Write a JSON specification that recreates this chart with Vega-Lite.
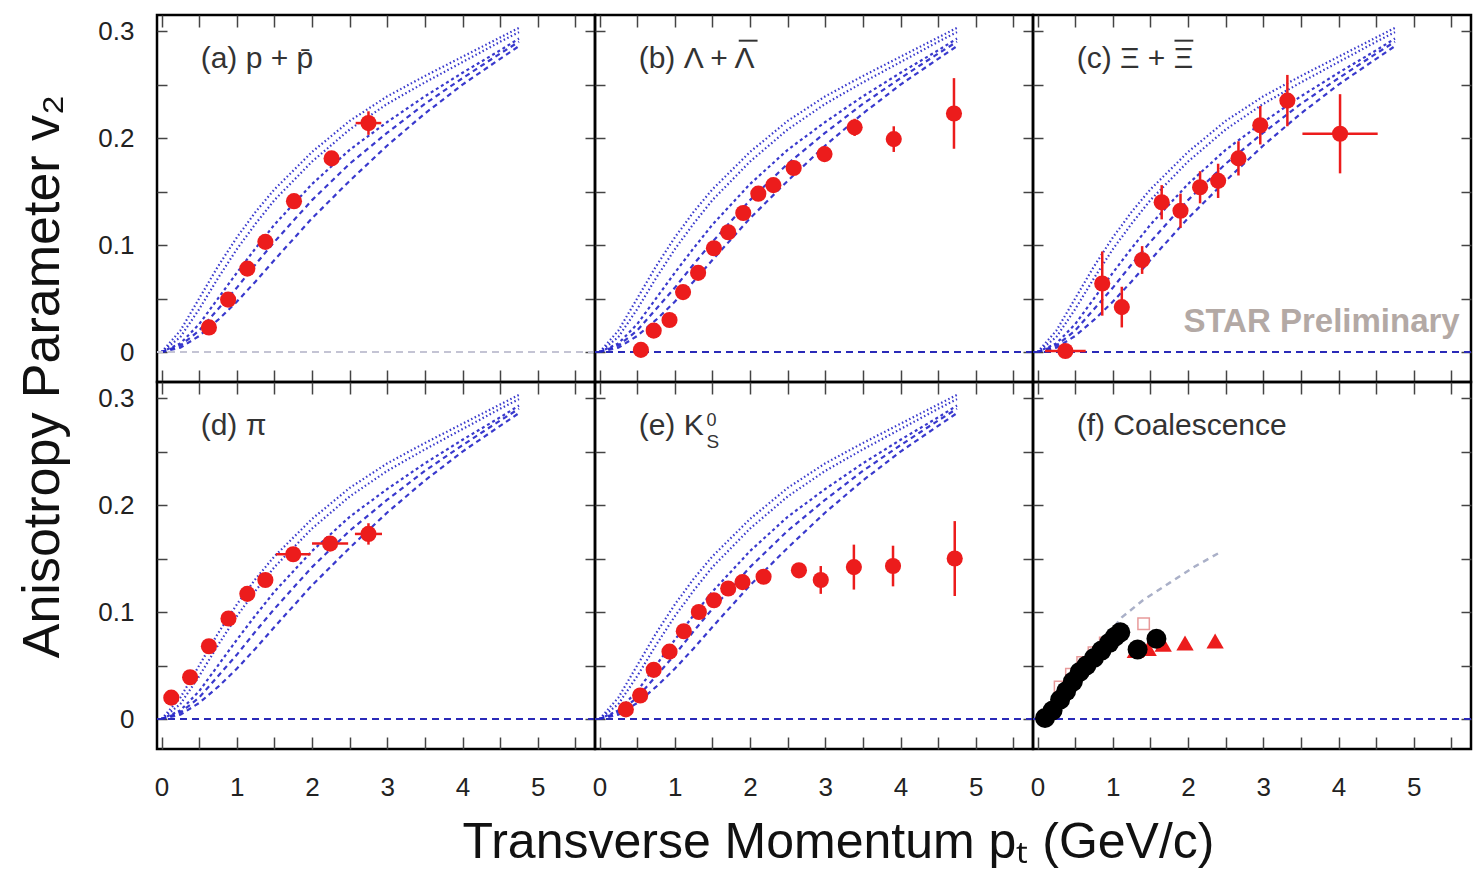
{
 "$schema": "https://vega.github.io/schema/vega-lite/v6.json",
 "background": "white",
 "padding": {"left": 14, "top": 13, "right": 5, "bottom": 2},
 "config": {
  "font": "Liberation Sans",
  "view": {"stroke": "#000", "strokeWidth": 2.5},
  "concat": {"spacing": 0},
  "axis": {"domain": false, "grid": false, "tickColor": "#444", "tickWidth": 1.5, "labelFontSize": 26, "labelColor": "#222", "labelFlush": false, "labelOverlap": false, "labelFont": "Liberation Sans", "titleFont": "Liberation Sans", "titleFontWeight": "normal", "titleColor": "#111"},
  "axisX": {"tickSize": -12, "labelPadding": 37},
  "axisY": {"tickSize": -10, "labelPadding": 33}
 },
 "datasets": {
  "hydro": [
   {"curve":"c1","pt":0,"v2":0},{"curve":"c1","pt":0.25,"v2":0.02},{"curve":"c1","pt":0.5,"v2":0.05},{"curve":"c1","pt":0.75,"v2":0.08},{"curve":"c1","pt":1,"v2":0.107},{"curve":"c1","pt":1.25,"v2":0.131},{"curve":"c1","pt":1.5,"v2":0.152},{"curve":"c1","pt":2,"v2":0.187},{"curve":"c1","pt":2.5,"v2":0.216},{"curve":"c1","pt":3,"v2":0.239},{"curve":"c1","pt":3.5,"v2":0.258},{"curve":"c1","pt":4,"v2":0.276},{"curve":"c1","pt":4.5,"v2":0.294},{"curve":"c1","pt":4.75,"v2":0.303},
   {"curve":"c2","pt":0,"v2":0},{"curve":"c2","pt":0.25,"v2":0.014},{"curve":"c2","pt":0.5,"v2":0.04},{"curve":"c2","pt":0.75,"v2":0.069},{"curve":"c2","pt":1,"v2":0.096},{"curve":"c2","pt":1.25,"v2":0.12},{"curve":"c2","pt":1.5,"v2":0.142},{"curve":"c2","pt":2,"v2":0.178},{"curve":"c2","pt":2.5,"v2":0.208},{"curve":"c2","pt":3,"v2":0.232},{"curve":"c2","pt":3.5,"v2":0.252},{"curve":"c2","pt":4,"v2":0.271},{"curve":"c2","pt":4.5,"v2":0.29},{"curve":"c2","pt":4.75,"v2":0.299},
   {"curve":"c3","pt":0,"v2":0},{"curve":"c3","pt":0.25,"v2":0.008},{"curve":"c3","pt":0.5,"v2":0.026},{"curve":"c3","pt":0.75,"v2":0.05},{"curve":"c3","pt":1,"v2":0.074},{"curve":"c3","pt":1.25,"v2":0.097},{"curve":"c3","pt":1.5,"v2":0.119},{"curve":"c3","pt":2,"v2":0.157},{"curve":"c3","pt":2.5,"v2":0.189},{"curve":"c3","pt":3,"v2":0.215},{"curve":"c3","pt":3.5,"v2":0.239},{"curve":"c3","pt":4,"v2":0.261},{"curve":"c3","pt":4.5,"v2":0.282},{"curve":"c3","pt":4.75,"v2":0.293},
   {"curve":"c4","pt":0,"v2":0},{"curve":"c4","pt":0.25,"v2":0.006},{"curve":"c4","pt":0.5,"v2":0.02},{"curve":"c4","pt":0.75,"v2":0.04},{"curve":"c4","pt":1,"v2":0.06},{"curve":"c4","pt":1.25,"v2":0.082},{"curve":"c4","pt":1.5,"v2":0.103},{"curve":"c4","pt":2,"v2":0.142},{"curve":"c4","pt":2.5,"v2":0.176},{"curve":"c4","pt":3,"v2":0.205},{"curve":"c4","pt":3.5,"v2":0.232},{"curve":"c4","pt":4,"v2":0.256},{"curve":"c4","pt":4.5,"v2":0.279},{"curve":"c4","pt":4.75,"v2":0.29},
   {"curve":"c5","pt":0,"v2":0},{"curve":"c5","pt":0.25,"v2":0.004},{"curve":"c5","pt":0.5,"v2":0.015},{"curve":"c5","pt":0.75,"v2":0.03},{"curve":"c5","pt":1,"v2":0.047},{"curve":"c5","pt":1.25,"v2":0.066},{"curve":"c5","pt":1.5,"v2":0.086},{"curve":"c5","pt":2,"v2":0.125},{"curve":"c5","pt":2.5,"v2":0.16},{"curve":"c5","pt":3,"v2":0.193},{"curve":"c5","pt":3.5,"v2":0.223},{"curve":"c5","pt":4,"v2":0.25},{"curve":"c5","pt":4.5,"v2":0.274},{"curve":"c5","pt":4.75,"v2":0.286}
  ],
  "pa": [
   {"pt":0.63,"v2":0.023,"lo":0.019,"hi":0.027,"xlo":0.63,"xhi":0.63},
   {"pt":0.885,"v2":0.049,"lo":0.045,"hi":0.053,"xlo":0.885,"xhi":0.885},
   {"pt":1.14,"v2":0.078,"lo":0.074,"hi":0.082,"xlo":1.14,"xhi":1.14},
   {"pt":1.38,"v2":0.103,"lo":0.099,"hi":0.107,"xlo":1.38,"xhi":1.38},
   {"pt":1.76,"v2":0.141,"lo":0.137,"hi":0.145,"xlo":1.76,"xhi":1.76},
   {"pt":2.26,"v2":0.181,"lo":0.177,"hi":0.185,"xlo":2.26,"xhi":2.26},
   {"pt":2.75,"v2":0.214,"lo":0.203,"hi":0.225,"xlo":2.58,"xhi":2.92}
  ],
  "pb": [
   {"pt":0.55,"v2":0.002,"lo":-0.002,"hi":0.006},
   {"pt":0.72,"v2":0.02,"lo":0.016,"hi":0.024},
   {"pt":0.93,"v2":0.03,"lo":0.026,"hi":0.034},
   {"pt":1.11,"v2":0.056,"lo":0.052,"hi":0.06},
   {"pt":1.31,"v2":0.074,"lo":0.07,"hi":0.078},
   {"pt":1.52,"v2":0.097,"lo":0.093,"hi":0.101},
   {"pt":1.71,"v2":0.112,"lo":0.108,"hi":0.116},
   {"pt":1.91,"v2":0.13,"lo":0.126,"hi":0.134},
   {"pt":2.11,"v2":0.148,"lo":0.144,"hi":0.152},
   {"pt":2.31,"v2":0.156,"lo":0.152,"hi":0.16},
   {"pt":2.58,"v2":0.172,"lo":0.167,"hi":0.177},
   {"pt":2.99,"v2":0.185,"lo":0.178,"hi":0.192},
   {"pt":3.39,"v2":0.21,"lo":0.202,"hi":0.218},
   {"pt":3.91,"v2":0.199,"lo":0.187,"hi":0.211},
   {"pt":4.71,"v2":0.223,"lo":0.19,"hi":0.256}
  ],
  "pc": [
   {"pt":0.37,"v2":0.001,"lo":-0.003,"hi":0.005,"xlo":0.1,"xhi":0.64},
   {"pt":0.86,"v2":0.064,"lo":0.034,"hi":0.094,"xlo":0.86,"xhi":0.86},
   {"pt":1.12,"v2":0.042,"lo":0.023,"hi":0.061,"xlo":1.12,"xhi":1.12},
   {"pt":1.39,"v2":0.086,"lo":0.073,"hi":0.099,"xlo":1.39,"xhi":1.39},
   {"pt":1.65,"v2":0.14,"lo":0.124,"hi":0.156,"xlo":1.65,"xhi":1.65},
   {"pt":1.9,"v2":0.132,"lo":0.116,"hi":0.148,"xlo":1.9,"xhi":1.9},
   {"pt":2.16,"v2":0.154,"lo":0.139,"hi":0.169,"xlo":2.16,"xhi":2.16},
   {"pt":2.4,"v2":0.16,"lo":0.144,"hi":0.176,"xlo":2.4,"xhi":2.4},
   {"pt":2.67,"v2":0.181,"lo":0.165,"hi":0.197,"xlo":2.67,"xhi":2.67},
   {"pt":2.96,"v2":0.212,"lo":0.194,"hi":0.23,"xlo":2.96,"xhi":2.96},
   {"pt":3.32,"v2":0.235,"lo":0.211,"hi":0.259,"xlo":3.32,"xhi":3.32},
   {"pt":4.02,"v2":0.204,"lo":0.167,"hi":0.241,"xlo":3.52,"xhi":4.52}
  ],
  "pd": [
   {"pt":0.13,"v2":0.02,"lo":0.016,"hi":0.024,"xlo":0.13,"xhi":0.13},
   {"pt":0.38,"v2":0.039,"lo":0.035,"hi":0.043,"xlo":0.38,"xhi":0.38},
   {"pt":0.63,"v2":0.068,"lo":0.064,"hi":0.072,"xlo":0.63,"xhi":0.63},
   {"pt":0.89,"v2":0.094,"lo":0.09,"hi":0.098,"xlo":0.89,"xhi":0.89},
   {"pt":1.14,"v2":0.117,"lo":0.113,"hi":0.121,"xlo":1.14,"xhi":1.14},
   {"pt":1.38,"v2":0.13,"lo":0.126,"hi":0.134,"xlo":1.38,"xhi":1.38},
   {"pt":1.75,"v2":0.154,"lo":0.15,"hi":0.158,"xlo":1.52,"xhi":1.98},
   {"pt":2.24,"v2":0.164,"lo":0.16,"hi":0.168,"xlo":2.0,"xhi":2.48},
   {"pt":2.75,"v2":0.173,"lo":0.163,"hi":0.183,"xlo":2.57,"xhi":2.93}
  ],
  "pe": [
   {"pt":0.35,"v2":0.009,"lo":0.005,"hi":0.013},
   {"pt":0.54,"v2":0.022,"lo":0.018,"hi":0.026},
   {"pt":0.72,"v2":0.046,"lo":0.042,"hi":0.05},
   {"pt":0.93,"v2":0.063,"lo":0.059,"hi":0.067},
   {"pt":1.12,"v2":0.082,"lo":0.078,"hi":0.086},
   {"pt":1.32,"v2":0.1,"lo":0.096,"hi":0.104},
   {"pt":1.52,"v2":0.111,"lo":0.107,"hi":0.115},
   {"pt":1.71,"v2":0.122,"lo":0.118,"hi":0.126},
   {"pt":1.9,"v2":0.128,"lo":0.124,"hi":0.132},
   {"pt":2.18,"v2":0.133,"lo":0.129,"hi":0.137},
   {"pt":2.65,"v2":0.139,"lo":0.134,"hi":0.144},
   {"pt":2.94,"v2":0.13,"lo":0.117,"hi":0.143},
   {"pt":3.38,"v2":0.142,"lo":0.121,"hi":0.163},
   {"pt":3.9,"v2":0.143,"lo":0.124,"hi":0.162},
   {"pt":4.72,"v2":0.15,"lo":0.115,"hi":0.185}
  ],
  "fgray": [
   {"pt":0,"v2":0},{"pt":0.3,"v2":0.02},{"pt":0.6,"v2":0.048},{"pt":0.9,"v2":0.076},{"pt":1.12,"v2":0.095},{"pt":1.4,"v2":0.111},{"pt":1.77,"v2":0.128},{"pt":2.1,"v2":0.143},{"pt":2.43,"v2":0.156}
  ],
  "fsq": [
   {"pt":0.3,"v2":0.03},{"pt":0.45,"v2":0.042},{"pt":0.6,"v2":0.053},{"pt":0.75,"v2":0.062},{"pt":0.9,"v2":0.071},{"pt":1.05,"v2":0.079},{"pt":1.41,"v2":0.089}
  ],
  "fblack": [
   {"pt":0.1,"v2":0.001},{"pt":0.2,"v2":0.008},{"pt":0.3,"v2":0.018},{"pt":0.38,"v2":0.026},{"pt":0.47,"v2":0.035},{"pt":0.56,"v2":0.044},{"pt":0.65,"v2":0.05},{"pt":0.75,"v2":0.057},{"pt":0.85,"v2":0.064},{"pt":0.95,"v2":0.071},{"pt":1.03,"v2":0.077},{"pt":1.1,"v2":0.081},{"pt":1.33,"v2":0.065},{"pt":1.58,"v2":0.075}
  ],
  "ftri": [
   {"pt":1.3,"v2":0.064},{"pt":1.47,"v2":0.066},{"pt":1.67,"v2":0.07},{"pt":1.96,"v2":0.071},{"pt":2.36,"v2":0.073}
  ]
 },
 "columns": 3,
 "spacing": 0,
 "bounds": "flush",
 "concat": [
   {"width": 438, "height": 367, "resolve": {"axis": {"x": "independent", "y": "independent"}},
    "layer": [
     {"data": {"name": "hydro"}, "mark": {"type": "line", "color": "#2424c8", "strokeWidth": 2.2, "opacity": 0.9},
      "encoding": {
       "x": {"field": "pt", "type": "quantitative", "scale": {"domain": [-0.06, 5.76], "nice": false, "zero": false}, "axis": {"orient": "bottom", "title": null, "labels": false, "values": [0,0.5,1,1.5,2,2.5,3,3.5,4,4.5,5,5.5]}},
       "y": {"field": "v2", "type": "quantitative", "scale": {"domain": [-0.028, 0.315], "nice": false, "zero": false}, "axis": {"orient": "left", "title": "Anisotropy Parameter v₂", "titleFontSize": 52, "titleX": -88, "titleY": 361, "titleAngle": -90, "titleBaseline": "bottom", "titleAlign": "center", "values": [0,0.05,0.1,0.15,0.2,0.25,0.3], "labelExpr": "round(datum.value*20) % 2 == 0 ? format(datum.value, '.1~f') : ''"}},
       "strokeDash": {"field": "curve", "type": "nominal", "scale": {"domain": ["c1","c2","c3","c4","c5"], "range": [[1.5,2.5],[1.5,2.5],[3,3],[5,4],[5,4]]}, "legend": null}
      }},
     {"data": {"values": [{}]}, "mark": {"type": "rule", "color": "#c4c4d4", "strokeDash": [7,5], "strokeWidth": 2}, "encoding": {"y": {"datum": 0, "type": "quantitative", "axis": null}}},
     {"data": {"name": "pa"}, "mark": {"type": "rule", "color": "#ec1c1c", "strokeWidth": 2.5}, "encoding": {"x": {"field": "pt", "type": "quantitative", "axis": null}, "y": {"field": "lo", "type": "quantitative", "axis": null}, "y2": {"field": "hi"}}},
     {"data": {"name": "pa"}, "mark": {"type": "rule", "color": "#ec1c1c", "strokeWidth": 2.5}, "encoding": {"x": {"field": "xlo", "type": "quantitative", "axis": null}, "x2": {"field": "xhi"}, "y": {"field": "v2", "type": "quantitative", "axis": null}}},
     {"data": {"name": "pa"}, "mark": {"type": "circle", "size": 260, "opacity": 1, "color": "#ec1c1c"},
      "encoding": {"x": {"field": "pt", "type": "quantitative", "axis": {"orient": "top", "title": null, "labels": false, "values": [0,0.5,1,1.5,2,2.5,3,3.5,4,4.5,5,5.5]}}, "y": {"field": "v2", "type": "quantitative", "axis": {"orient": "right", "title": null, "labels": false, "values": [0,0.05,0.1,0.15,0.2,0.25,0.3]}}}},
     {"data": {"values": [{}]}, "mark": {"type": "text", "align": "left", "baseline": "alphabetic", "fontSize": 30, "color": "#333"}, "encoding": {"x": {"datum": 0.52, "type": "quantitative", "axis": null}, "y": {"datum": 0.265, "type": "quantitative", "axis": null}, "text": {"value": "(a) p + p̄"}}}
    ]},
   {"width": 438, "height": 367, "resolve": {"axis": {"x": "independent", "y": "independent"}},
    "layer": [
     {"data": {"name": "hydro"}, "mark": {"type": "line", "color": "#2424c8", "strokeWidth": 2.2, "opacity": 0.9},
      "encoding": {
       "x": {"field": "pt", "type": "quantitative", "scale": {"domain": [-0.06, 5.76], "nice": false, "zero": false}, "axis": {"orient": "bottom", "title": null, "labels": false, "values": [0,0.5,1,1.5,2,2.5,3,3.5,4,4.5,5,5.5]}},
       "y": {"field": "v2", "type": "quantitative", "scale": {"domain": [-0.028, 0.315], "nice": false, "zero": false}, "axis": {"orient": "left", "title": null, "labels": false, "values": [0,0.05,0.1,0.15,0.2,0.25,0.3]}},
       "strokeDash": {"field": "curve", "type": "nominal", "scale": {"domain": ["c1","c2","c3","c4","c5"], "range": [[1.5,2.5],[1.5,2.5],[3,3],[5,4],[5,4]]}, "legend": null}
      }},
     {"data": {"values": [{}]}, "mark": {"type": "rule", "color": "#2a2ab8", "strokeDash": [7,5], "strokeWidth": 2}, "encoding": {"y": {"datum": 0, "type": "quantitative", "axis": null}}},
     {"data": {"name": "pb"}, "mark": {"type": "rule", "color": "#ec1c1c", "strokeWidth": 2.5}, "encoding": {"x": {"field": "pt", "type": "quantitative", "axis": null}, "y": {"field": "lo", "type": "quantitative", "axis": null}, "y2": {"field": "hi"}}},
     {"data": {"name": "pb"}, "mark": {"type": "circle", "size": 260, "opacity": 1, "color": "#ec1c1c"},
      "encoding": {"x": {"field": "pt", "type": "quantitative", "axis": {"orient": "top", "title": null, "labels": false, "values": [0,0.5,1,1.5,2,2.5,3,3.5,4,4.5,5,5.5]}}, "y": {"field": "v2", "type": "quantitative", "axis": {"orient": "right", "title": null, "labels": false, "values": [0,0.05,0.1,0.15,0.2,0.25,0.3]}}}},
     {"data": {"values": [{}]}, "mark": {"type": "text", "align": "left", "baseline": "alphabetic", "fontSize": 30, "color": "#333"}, "encoding": {"x": {"datum": 0.52, "type": "quantitative", "axis": null}, "y": {"datum": 0.265, "type": "quantitative", "axis": null}, "text": {"value": "(b) Λ + Λ"}}},
     {"data": {"values": [{}]}, "mark": {"type": "rule", "color": "#333", "strokeWidth": 2}, "encoding": {"x": {"datum": 1.85, "type": "quantitative", "axis": null}, "x2": {"datum": 2.1}, "y": {"datum": 0.291, "type": "quantitative", "axis": null}}}
    ]},
   {"width": 438, "height": 367, "resolve": {"axis": {"x": "independent", "y": "independent"}},
    "layer": [
     {"data": {"name": "hydro"}, "mark": {"type": "line", "color": "#2424c8", "strokeWidth": 2.2, "opacity": 0.9},
      "encoding": {
       "x": {"field": "pt", "type": "quantitative", "scale": {"domain": [-0.06, 5.76], "nice": false, "zero": false}, "axis": {"orient": "bottom", "title": null, "labels": false, "values": [0,0.5,1,1.5,2,2.5,3,3.5,4,4.5,5,5.5]}},
       "y": {"field": "v2", "type": "quantitative", "scale": {"domain": [-0.028, 0.315], "nice": false, "zero": false}, "axis": {"orient": "left", "title": null, "labels": false, "values": [0,0.05,0.1,0.15,0.2,0.25,0.3]}},
       "strokeDash": {"field": "curve", "type": "nominal", "scale": {"domain": ["c1","c2","c3","c4","c5"], "range": [[1.5,2.5],[1.5,2.5],[3,3],[5,4],[5,4]]}, "legend": null}
      }},
     {"data": {"values": [{}]}, "mark": {"type": "rule", "color": "#2a2ab8", "strokeDash": [7,5], "strokeWidth": 2}, "encoding": {"y": {"datum": 0, "type": "quantitative", "axis": null}}},
     {"data": {"values": [{}]}, "mark": {"type": "text", "align": "right", "baseline": "alphabetic", "fontSize": 33, "fontWeight": "bold", "color": "#b3a9a5"}, "encoding": {"x": {"datum": 5.61, "type": "quantitative", "axis": null}, "y": {"datum": 0.019, "type": "quantitative", "axis": null}, "text": {"value": "STAR Preliminary"}}},
     {"data": {"name": "pc"}, "mark": {"type": "rule", "color": "#ec1c1c", "strokeWidth": 2.5}, "encoding": {"x": {"field": "pt", "type": "quantitative", "axis": null}, "y": {"field": "lo", "type": "quantitative", "axis": null}, "y2": {"field": "hi"}}},
     {"data": {"name": "pc"}, "mark": {"type": "rule", "color": "#ec1c1c", "strokeWidth": 2.5}, "encoding": {"x": {"field": "xlo", "type": "quantitative", "axis": null}, "x2": {"field": "xhi"}, "y": {"field": "v2", "type": "quantitative", "axis": null}}},
     {"data": {"name": "pc"}, "mark": {"type": "circle", "size": 260, "opacity": 1, "color": "#ec1c1c"},
      "encoding": {"x": {"field": "pt", "type": "quantitative", "axis": {"orient": "top", "title": null, "labels": false, "values": [0,0.5,1,1.5,2,2.5,3,3.5,4,4.5,5,5.5]}}, "y": {"field": "v2", "type": "quantitative", "axis": {"orient": "right", "title": null, "labels": false, "values": [0,0.05,0.1,0.15,0.2,0.25,0.3]}}}},
     {"data": {"values": [{}]}, "mark": {"type": "text", "align": "left", "baseline": "alphabetic", "fontSize": 30, "color": "#333"}, "encoding": {"x": {"datum": 0.52, "type": "quantitative", "axis": null}, "y": {"datum": 0.265, "type": "quantitative", "axis": null}, "text": {"value": "(c) Ξ + Ξ"}}},
     {"data": {"values": [{}]}, "mark": {"type": "rule", "color": "#333", "strokeWidth": 2}, "encoding": {"x": {"datum": 1.82, "type": "quantitative", "axis": null}, "x2": {"datum": 2.07}, "y": {"datum": 0.291, "type": "quantitative", "axis": null}}}
    ]},
   {"width": 438, "height": 367, "resolve": {"axis": {"x": "independent", "y": "independent"}},
    "layer": [
     {"data": {"name": "hydro"}, "mark": {"type": "line", "color": "#2424c8", "strokeWidth": 2.2, "opacity": 0.9},
      "encoding": {
       "x": {"field": "pt", "type": "quantitative", "scale": {"domain": [-0.06, 5.76], "nice": false, "zero": false}, "axis": {"orient": "bottom", "title": null, "values": [0,0.5,1,1.5,2,2.5,3,3.5,4,4.5,5,5.5], "labelExpr": "round(datum.value*2) % 2 == 0 ? format(datum.value, 'd') : ''"}},
       "y": {"field": "v2", "type": "quantitative", "scale": {"domain": [-0.028, 0.315], "nice": false, "zero": false}, "axis": {"orient": "left", "title": null, "values": [0,0.05,0.1,0.15,0.2,0.25,0.3], "labelExpr": "round(datum.value*20) % 2 == 0 ? format(datum.value, '.1~f') : ''"}},
       "strokeDash": {"field": "curve", "type": "nominal", "scale": {"domain": ["c1","c2","c3","c4","c5"], "range": [[1.5,2.5],[1.5,2.5],[3,3],[5,4],[5,4]]}, "legend": null}
      }},
     {"data": {"values": [{}]}, "mark": {"type": "rule", "color": "#2a2ab8", "strokeDash": [7,5], "strokeWidth": 2}, "encoding": {"y": {"datum": 0, "type": "quantitative", "axis": null}}},
     {"data": {"name": "pd"}, "mark": {"type": "rule", "color": "#ec1c1c", "strokeWidth": 2.5}, "encoding": {"x": {"field": "pt", "type": "quantitative", "axis": null}, "y": {"field": "lo", "type": "quantitative", "axis": null}, "y2": {"field": "hi"}}},
     {"data": {"name": "pd"}, "mark": {"type": "rule", "color": "#ec1c1c", "strokeWidth": 2.5}, "encoding": {"x": {"field": "xlo", "type": "quantitative", "axis": null}, "x2": {"field": "xhi"}, "y": {"field": "v2", "type": "quantitative", "axis": null}}},
     {"data": {"name": "pd"}, "mark": {"type": "circle", "size": 260, "opacity": 1, "color": "#ec1c1c"},
      "encoding": {"x": {"field": "pt", "type": "quantitative", "axis": {"orient": "top", "title": null, "labels": false, "values": [0,0.5,1,1.5,2,2.5,3,3.5,4,4.5,5,5.5]}}, "y": {"field": "v2", "type": "quantitative", "axis": {"orient": "right", "title": null, "labels": false, "values": [0,0.05,0.1,0.15,0.2,0.25,0.3]}}}},
     {"data": {"values": [{}]}, "mark": {"type": "text", "align": "left", "baseline": "alphabetic", "fontSize": 30, "color": "#333"}, "encoding": {"x": {"datum": 0.52, "type": "quantitative", "axis": null}, "y": {"datum": 0.265, "type": "quantitative", "axis": null}, "text": {"value": "(d) π"}}}
    ]},
   {"width": 438, "height": 367, "resolve": {"axis": {"x": "independent", "y": "independent"}},
    "layer": [
     {"data": {"name": "hydro"}, "mark": {"type": "line", "color": "#2424c8", "strokeWidth": 2.2, "opacity": 0.9},
      "encoding": {
       "x": {"field": "pt", "type": "quantitative", "scale": {"domain": [-0.06, 5.76], "nice": false, "zero": false}, "axis": {"orient": "bottom", "title": "Transverse Momentum pₜ (GeV/c)", "titleFontSize": 50, "titleX": 243, "titleY": 108, "titleBaseline": "alphabetic", "titleAlign": "center", "values": [0,0.5,1,1.5,2,2.5,3,3.5,4,4.5,5,5.5], "labelExpr": "round(datum.value*2) % 2 == 0 ? format(datum.value, 'd') : ''"}},
       "y": {"field": "v2", "type": "quantitative", "scale": {"domain": [-0.028, 0.315], "nice": false, "zero": false}, "axis": {"orient": "left", "title": null, "labels": false, "values": [0,0.05,0.1,0.15,0.2,0.25,0.3]}},
       "strokeDash": {"field": "curve", "type": "nominal", "scale": {"domain": ["c1","c2","c3","c4","c5"], "range": [[1.5,2.5],[1.5,2.5],[3,3],[5,4],[5,4]]}, "legend": null}
      }},
     {"data": {"values": [{}]}, "mark": {"type": "rule", "color": "#2a2ab8", "strokeDash": [7,5], "strokeWidth": 2}, "encoding": {"y": {"datum": 0, "type": "quantitative", "axis": null}}},
     {"data": {"name": "pe"}, "mark": {"type": "rule", "color": "#ec1c1c", "strokeWidth": 2.5}, "encoding": {"x": {"field": "pt", "type": "quantitative", "axis": null}, "y": {"field": "lo", "type": "quantitative", "axis": null}, "y2": {"field": "hi"}}},
     {"data": {"name": "pe"}, "mark": {"type": "circle", "size": 260, "opacity": 1, "color": "#ec1c1c"},
      "encoding": {"x": {"field": "pt", "type": "quantitative", "axis": {"orient": "top", "title": null, "labels": false, "values": [0,0.5,1,1.5,2,2.5,3,3.5,4,4.5,5,5.5]}}, "y": {"field": "v2", "type": "quantitative", "axis": {"orient": "right", "title": null, "labels": false, "values": [0,0.05,0.1,0.15,0.2,0.25,0.3]}}}},
     {"data": {"values": [{}]}, "mark": {"type": "text", "align": "left", "baseline": "alphabetic", "fontSize": 30, "color": "#333"}, "encoding": {"x": {"datum": 0.52, "type": "quantitative", "axis": null}, "y": {"datum": 0.265, "type": "quantitative", "axis": null}, "text": {"value": "(e) K"}}},
     {"data": {"values": [{}]}, "mark": {"type": "text", "align": "left", "baseline": "alphabetic", "fontSize": 18, "color": "#333"}, "encoding": {"x": {"datum": 1.42, "type": "quantitative", "axis": null}, "y": {"datum": 0.274, "type": "quantitative", "axis": null}, "text": {"value": "0"}}},
     {"data": {"values": [{}]}, "mark": {"type": "text", "align": "left", "baseline": "alphabetic", "fontSize": 19, "color": "#333"}, "encoding": {"x": {"datum": 1.42, "type": "quantitative", "axis": null}, "y": {"datum": 0.253, "type": "quantitative", "axis": null}, "text": {"value": "S"}}}
    ]},
   {"width": 438, "height": 367, "resolve": {"axis": {"x": "independent", "y": "independent"}},
    "layer": [
     {"data": {"name": "fgray"}, "mark": {"type": "line", "color": "#aab0c8", "strokeWidth": 2.5, "strokeDash": [6,5]},
      "encoding": {
       "x": {"field": "pt", "type": "quantitative", "scale": {"domain": [-0.06, 5.76], "nice": false, "zero": false}, "axis": {"orient": "bottom", "title": null, "values": [0,0.5,1,1.5,2,2.5,3,3.5,4,4.5,5,5.5], "labelExpr": "round(datum.value*2) % 2 == 0 ? format(datum.value, 'd') : ''"}},
       "y": {"field": "v2", "type": "quantitative", "scale": {"domain": [-0.028, 0.315], "nice": false, "zero": false}, "axis": {"orient": "left", "title": null, "labels": false, "values": [0,0.05,0.1,0.15,0.2,0.25,0.3]}}
      }},
     {"data": {"values": [{}]}, "mark": {"type": "rule", "color": "#2a2ab8", "strokeDash": [7,5], "strokeWidth": 2}, "encoding": {"y": {"datum": 0, "type": "quantitative", "axis": null}}},
     {"data": {"name": "fsq"}, "mark": {"type": "point", "shape": "square", "filled": false, "size": 130, "color": "#e89a9a", "strokeWidth": 1.5, "opacity": 1}, "encoding": {"x": {"field": "pt", "type": "quantitative", "axis": null}, "y": {"field": "v2", "type": "quantitative", "axis": null}}},
     {"data": {"name": "ftri"}, "mark": {"type": "point", "shape": "triangle-up", "filled": true, "size": 300, "color": "#ec1c1c", "opacity": 1}, "encoding": {"x": {"field": "pt", "type": "quantitative", "axis": null}, "y": {"field": "v2", "type": "quantitative", "axis": null}}},
     {"data": {"name": "fblack"}, "mark": {"type": "circle", "size": 400, "opacity": 1, "color": "#000"},
      "encoding": {"x": {"field": "pt", "type": "quantitative", "axis": {"orient": "top", "title": null, "labels": false, "values": [0,0.5,1,1.5,2,2.5,3,3.5,4,4.5,5,5.5]}}, "y": {"field": "v2", "type": "quantitative", "axis": {"orient": "right", "title": null, "labels": false, "values": [0,0.05,0.1,0.15,0.2,0.25,0.3]}}}},
     {"data": {"values": [{}]}, "mark": {"type": "text", "align": "left", "baseline": "alphabetic", "fontSize": 30, "color": "#333"}, "encoding": {"x": {"datum": 0.52, "type": "quantitative", "axis": null}, "y": {"datum": 0.265, "type": "quantitative", "axis": null}, "text": {"value": "(f) Coalescence"}}}
    ]}
 ]
}
